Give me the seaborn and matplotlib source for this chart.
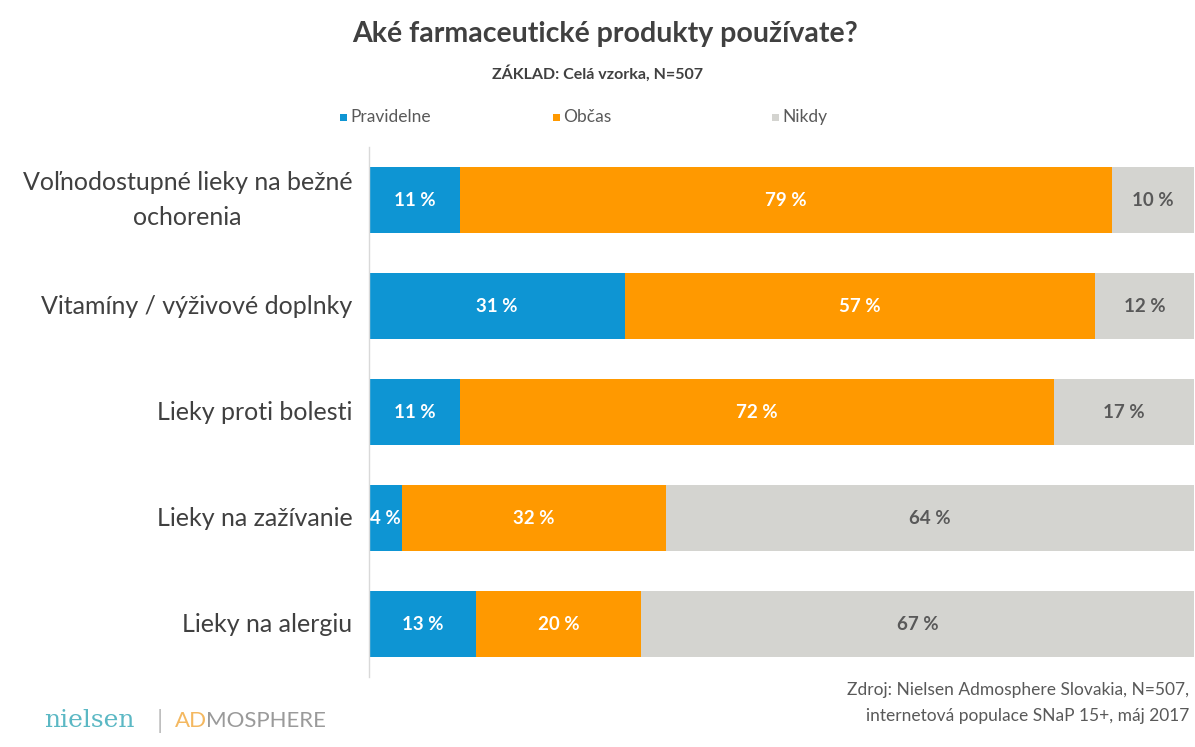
import matplotlib
matplotlib.use("Agg")
import matplotlib.pyplot as plt
import seaborn as sns
import pandas as pd
import numpy as np
from matplotlib.patches import Rectangle

categories = ["Voľnodostupné lieky na bežné\nochorenia", "Vitamíny / výživové doplnky",
              "Lieky proti bolesti", "Lieky na zažívanie", "Lieky na alergiu"]
pravidelne = [11, 31, 11, 4, 13]
obcas = [79, 57, 72, 32, 20]
nikdy = [10, 12, 17, 64, 67]
series_names = ["Pravidelne", "Občas", "Nikdy"]
colors = ["#0E95D3", "#FF9900", "#D4D4D0"]

sns.set_theme(style="white")
plt.rcParams['font.family'] = ['Lato', 'DejaVu Sans']

df = pd.DataFrame({"cat": categories, "p": pravidelne, "o": obcas, "n": nikdy})
df["po"] = df["p"] + df["o"]
df["total"] = df["po"] + df["n"]

fig = plt.figure(figsize=(11.95, 7.47), dpi=100)
ax = fig.add_axes([0.3088, 0.0937, 0.6905, 0.7095])

bar_w = 0.63
sns.barplot(data=df, y="cat", x="total", color=colors[2], orient="h", width=bar_w,
            ax=ax, saturation=1, linewidth=0)
sns.barplot(data=df, y="cat", x="po", color=colors[1], orient="h", width=bar_w,
            ax=ax, saturation=1, linewidth=0)
sns.barplot(data=df, y="cat", x="p", color=colors[0], orient="h", width=bar_w,
            ax=ax, saturation=1, linewidth=0)

ax.set_xlim(0, 100)
ax.set_ylim(4.5, -0.5)
ax.set_xlabel("")
ax.set_ylabel("")
ax.set_xticks([])
for s in ["top", "right", "bottom"]:
    ax.spines[s].set_visible(False)
ax.spines["left"].set_color("#D9D9D9")
ax.spines["left"].set_linewidth(1.0)
ax.tick_params(axis="y", length=0, labelleft=False)

# Category labels (right-aligned block, centred lines)
for i, cat in enumerate(categories):
    ax.annotate(cat, xy=(0, i), xycoords=("axes fraction", "data"),
                xytext=(-12, 0), textcoords="offset points",
                ha="right", va="center", multialignment="center",
                fontsize=18, color="#404040", linespacing=1.6)

for i in range(len(categories)):
    p, o, n = pravidelne[i], obcas[i], nikdy[i]
    ax.text(p / 2, i, f"{p} %", ha="center", va="center", color="white",
            fontsize=13.5, fontweight="bold")
    ax.text(p + o / 2, i, f"{o} %", ha="center", va="center", color="white",
            fontsize=13.5, fontweight="bold")
    ax.text(p + o + n / 2, i, f"{n} %", ha="center", va="center", color="#595959",
            fontsize=13.5, fontweight="bold")

# Title and subtitle
fig.text(0.506, 0.955, "Aké farmaceutické produkty používate?", ha="center", va="center",
         fontsize=20.5, fontweight="bold", color="#404040")
fig.text(0.5, 0.902, "ZÁKLAD: Celá vzorka, N=507", ha="center", va="center",
         fontsize=11.5, fontweight="bold", color="#404040")

# Legend
leg_x = [0.2845, 0.4628, 0.646]
for xx, name, c in zip(leg_x, series_names, colors):
    fig.patches.append(Rectangle((xx, 0.838), 0.0059, 0.0094, transform=fig.transFigure,
                                 facecolor=c, edgecolor="none"))
    fig.text(xx + 0.0085, 0.843, name, ha="left", va="center", fontsize=12.5, color="#595959")

# Footer logos
fig.text(0.037, 0.035, "nielsen", ha="left", va="center", fontsize=18, color="#5BB8C4",
         family="DejaVu Serif")
fig.text(0.131, 0.035, "|", ha="left", va="center", fontsize=18, color="#BFBFBF")
fig.text(0.146, 0.035, "AD", ha="left", va="center", fontsize=16, color="#F4B860")
fig.text(0.1725, 0.035, "MOSPHERE", ha="left", va="center", fontsize=16, color="#9A9A9A")

# Source
fig.text(0.995, 0.076, "Zdroj: Nielsen Admosphere Slovakia, N=507,", ha="right", va="center",
         fontsize=12.5, color="#595959")
fig.text(0.995, 0.042, "internetová populace SNaP 15+, máj 2017", ha="right", va="center",
         fontsize=12.5, color="#595959")

fig.savefig("out.png", dpi=100, facecolor="white")
